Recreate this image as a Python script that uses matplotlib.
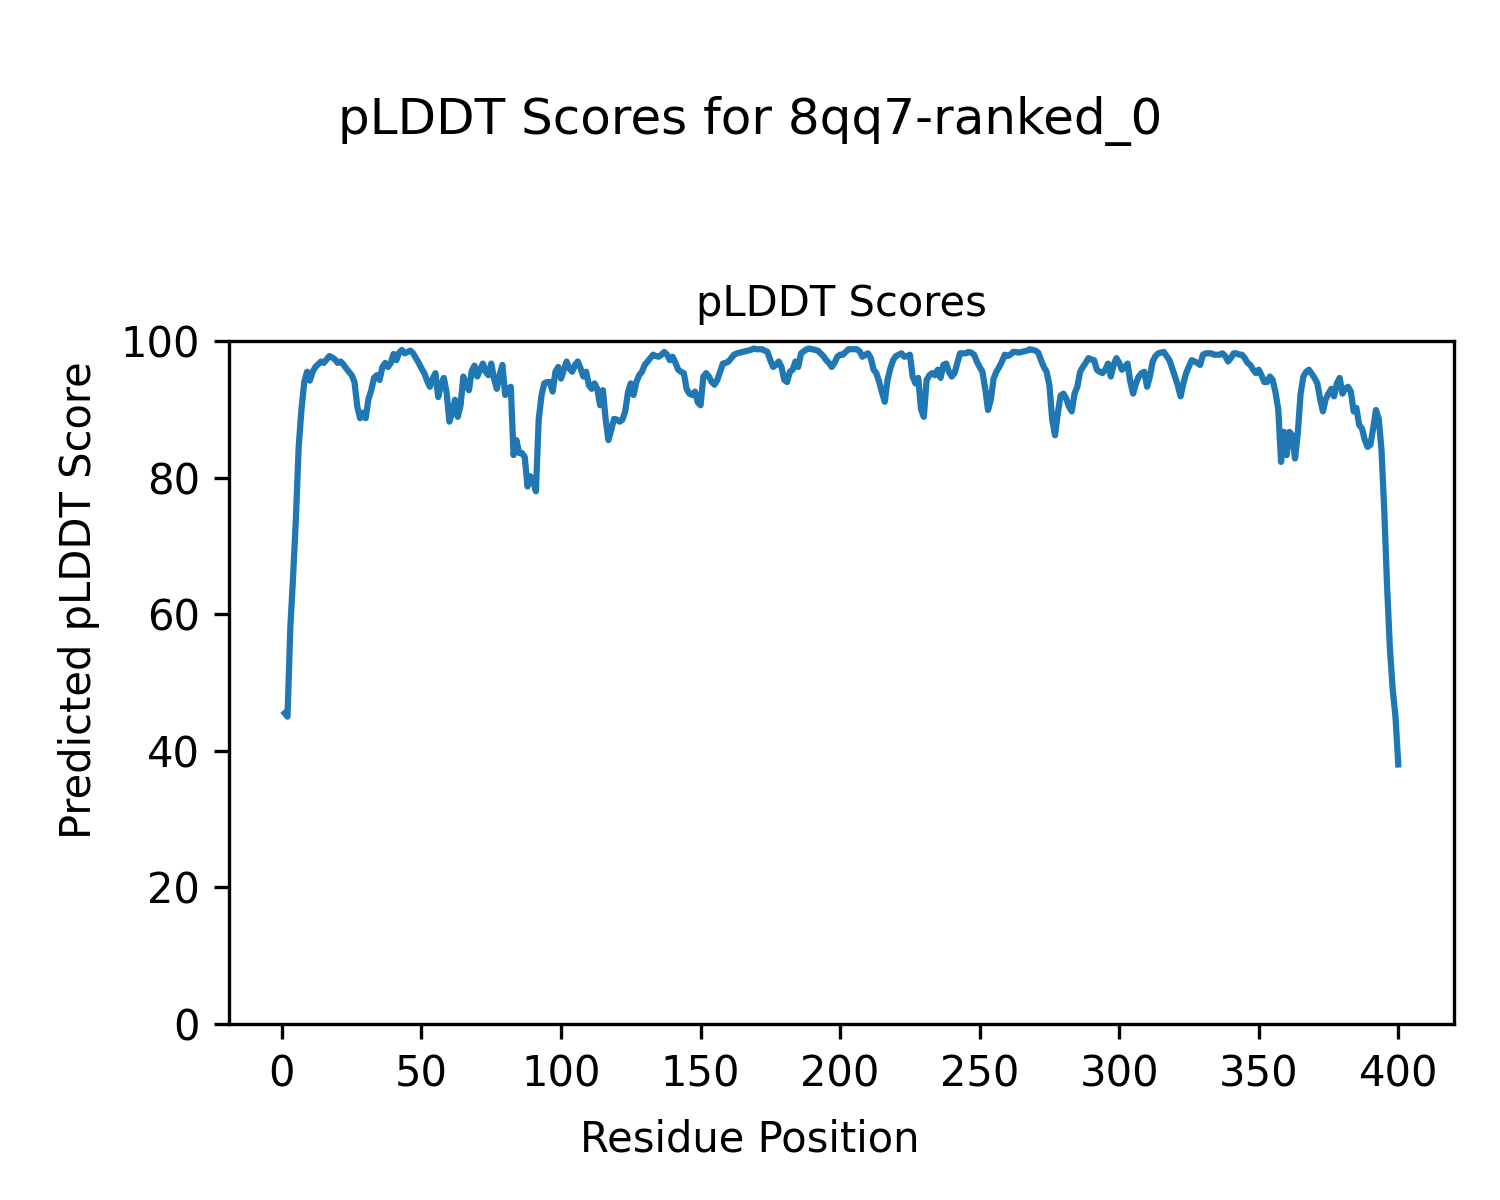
import matplotlib
matplotlib.use("Agg")
import matplotlib.pyplot as plt

# Titel / labels
model_name = "8qq7-ranked_0"

# pLDDT per residue (residues 1..400)
plddt = [
    45.5, 45.0, 58.0, 65.5, 74.0, 84.5, 90.0, 94.0, 95.5,
    94.2, 95.5, 96.2, 96.6, 97.0, 96.8, 97.3, 97.8, 97.6, 97.3,
    96.8, 97.0, 96.6, 96.0, 95.5, 95.0, 94.0, 90.4, 88.7, 89.5,
    88.7, 91.5, 92.8, 94.6, 95.0, 94.3, 96.2, 96.8, 96.2, 96.8,
    98.1, 97.2, 98.3, 98.7, 98.2, 98.4, 98.6, 98.2, 97.5, 96.8,
    96.0, 95.3, 94.2, 93.3, 94.5, 95.3, 91.8, 93.5, 94.6, 92.5,
    88.2, 89.5, 91.4, 88.9, 90.6, 94.8, 93.5, 92.8, 95.6, 96.4,
    94.8, 95.8, 96.7, 95.5, 95.0, 96.7, 94.5, 93.0, 95.0, 96.5,
    92.1, 93.0, 93.3, 83.3, 85.5, 83.6, 83.6, 83.0, 78.7, 80.2,
    79.5, 78.0, 88.5, 92.0, 93.8, 94.0, 94.0, 92.6, 95.5, 96.2,
    94.5, 95.8, 97.0, 96.0, 95.5, 96.5, 97.0, 96.0, 94.8, 95.5,
    93.5, 93.0, 93.8, 93.0, 90.6, 92.8, 88.5, 85.5, 87.0, 88.6,
    88.5, 88.2, 88.5, 89.7, 92.5, 93.8, 92.1, 94.0, 95.0, 95.5,
    96.5, 97.0, 97.5, 98.0, 97.8, 97.7, 98.0, 98.4, 98.0, 97.2,
    97.7, 96.8, 95.8, 95.5, 95.3, 93.0, 92.3, 92.1, 92.6, 91.0,
    90.6, 94.8, 95.3, 94.8, 94.0, 93.6, 94.3, 95.5, 96.7, 96.8,
    97.0, 97.5, 98.0, 98.2, 98.3, 98.4, 98.5, 98.6, 98.7, 98.9,
    98.8, 98.8, 98.8, 98.6, 98.4, 97.2, 96.2, 96.5, 97.0, 96.2,
    94.3, 94.0, 95.5, 95.8, 97.0, 96.2, 98.2, 98.5, 98.8, 98.9,
    98.8, 98.7, 98.6, 98.2, 97.8, 97.2, 96.8, 96.2, 96.8, 97.7,
    98.0, 98.0, 98.4, 98.8, 98.8, 98.8, 98.8, 98.5, 97.7, 98.0,
    98.2, 97.5, 95.8, 95.3, 94.0, 92.5, 91.1, 94.3, 96.0, 97.2,
    97.8, 98.0, 98.2, 97.7, 97.8, 98.0, 94.8, 93.8, 94.6, 90.0,
    88.9, 94.3, 95.0, 95.3, 95.0, 95.8, 94.6, 96.5, 96.7, 95.5,
    94.8, 95.3, 96.8, 98.2, 98.2, 98.2, 98.4, 98.3, 98.0, 97.0,
    96.2, 95.5, 93.0, 89.9, 91.4, 94.5, 95.5, 96.2, 97.0, 98.0,
    97.8, 98.0, 98.4, 98.4, 98.3, 98.4, 98.5, 98.6, 98.8, 98.7,
    98.6, 98.3, 97.2, 96.2, 95.5, 93.5, 88.5, 86.2, 89.4, 92.0,
    92.3, 91.6, 90.4, 89.7, 92.3, 93.3, 95.5, 96.2, 96.8, 97.5,
    97.3, 97.2, 95.8, 95.5, 95.3, 95.8, 96.7, 94.8, 96.5, 97.5,
    96.8, 95.8, 96.2, 96.7, 94.0, 92.3, 93.8, 94.8, 95.3, 95.5,
    93.3, 94.8, 97.0, 97.8, 98.2, 98.3, 98.4, 97.8, 97.2, 96.0,
    94.8, 93.5, 91.9, 93.8, 95.3, 96.3, 97.2, 97.0, 96.8, 96.5,
    98.0, 98.2, 98.2, 98.2, 98.0, 98.0, 98.0, 98.2, 97.8, 97.0,
    97.5, 98.2, 98.2, 98.0, 98.0, 97.5, 96.8, 96.5, 95.8, 95.3,
    95.8, 95.0, 94.0, 94.0, 94.8, 94.3, 92.5, 90.0, 82.3, 86.7,
    83.3, 86.7, 86.2, 82.8, 86.5, 92.3, 94.8, 95.5, 95.8, 95.2,
    94.6, 93.8, 91.5, 89.7, 91.5, 92.3, 93.0, 91.9, 93.8, 94.6,
    92.3, 93.0, 93.3, 92.6, 89.7, 90.2, 87.7, 87.2, 85.5, 84.5,
    84.8, 87.2, 89.9, 88.6, 84.0, 75.0, 64.0, 55.0, 49.0, 45.0,
    38.0,
]
residues = list(range(1, len(plddt) + 1))


def main():
    fig = plt.figure(figsize=(5, 4), dpi=300)
    fig.suptitle(f"pLDDT Scores for {model_name}", fontsize=12, y=0.92)

    ax = fig.add_axes([0.1527, 0.1467, 0.8166, 0.5691])
    ax.plot(residues, plddt)
    ax.set_title("pLDDT Scores", fontsize=10)
    ax.set_ylim(0, 100)

    # etichette comuni della figura
    fig.supxlabel("Residue Position", fontsize=10, y=0.05, va="center")
    fig.supylabel("Predicted pLDDT Score", fontsize=10, x=0.0525, ha="center")

    fig.savefig("out.png", dpi=300)


if __name__ == "__main__":
    main()
